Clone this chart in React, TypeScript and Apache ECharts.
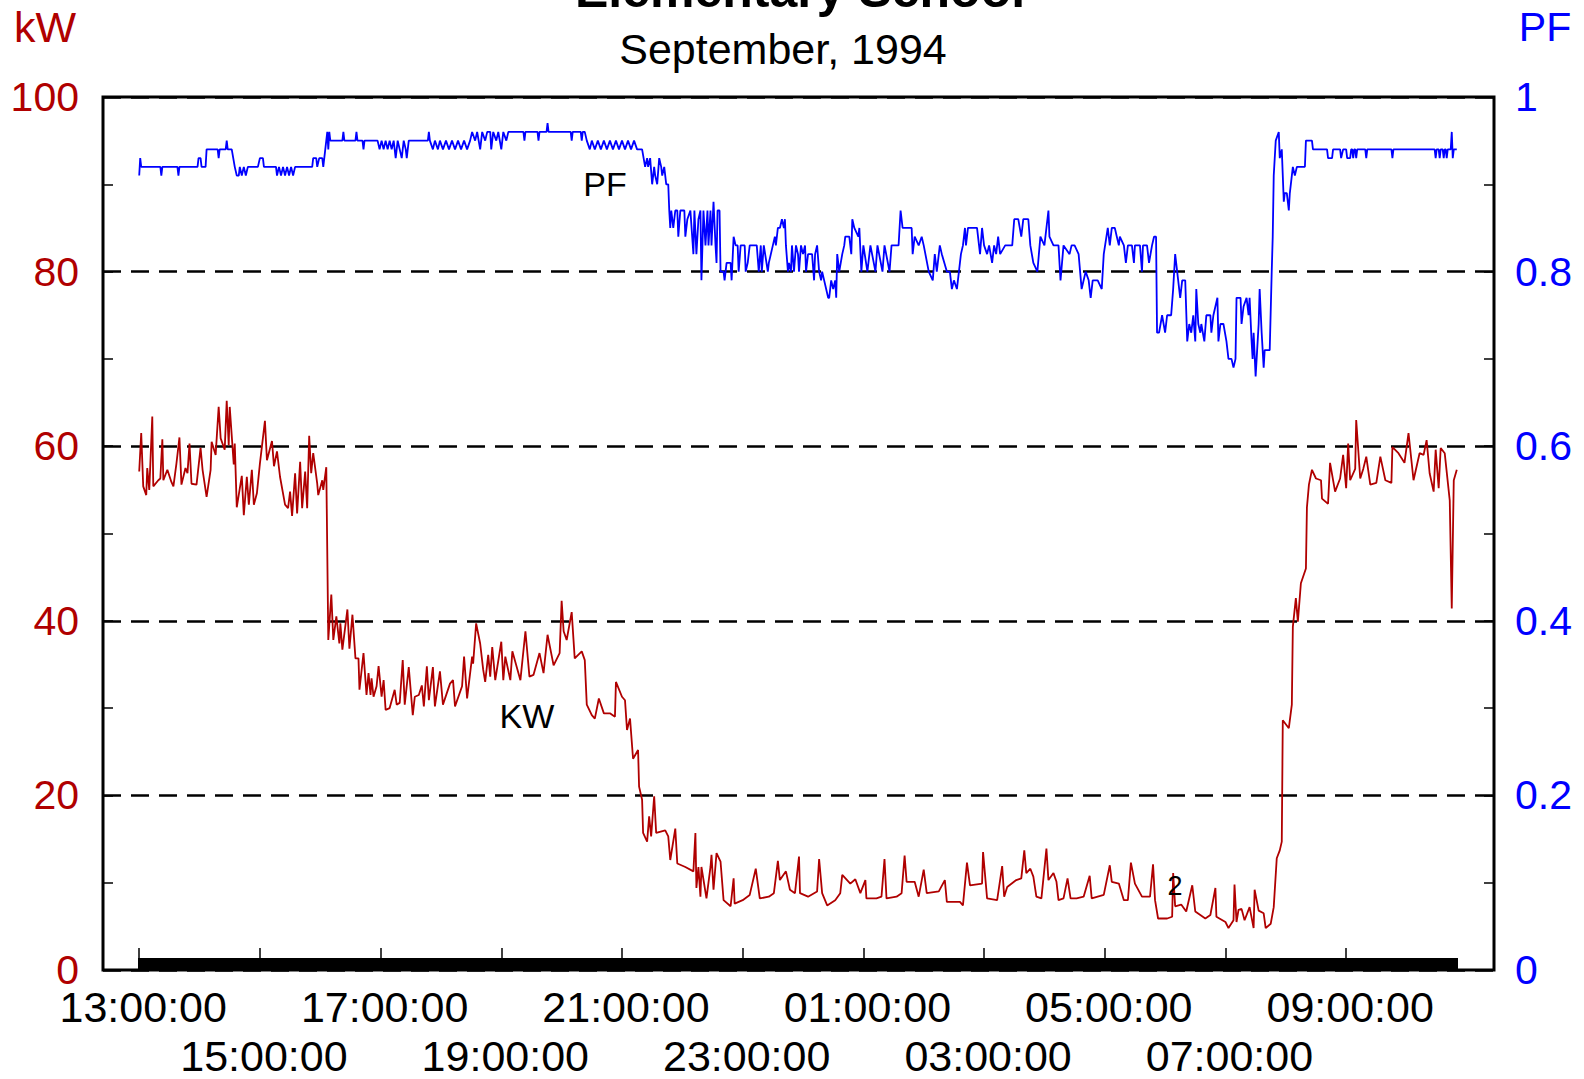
import React, { useEffect, useRef } from "react";
import * as echarts from "echarts";

// minutes after 13:00:00, kW
const kwAfternoon: [number, number][] = [
  [0,57.1],[2,61.5],[4,55.4],[7,54.4],[8,57.5],[10,55.0],[13,63.4],[14,55.4],[19,56.1],[21,56.3],
  [23,60.8],[24,56.1],[28,57.3],[32,55.9],[34,55.4],[37,58.0],[40,61.0],[42,55.6],[46,57.5],[48,56.9],
  [50,60.3],[52,55.7],[57,55.6],[61,59.8],[63,57.3],[67,54.2],[71,57.3],[72,60.5],[76,59.0],[79,64.5],
  [81,60.9],[85,59.6],[87,65.2],[89,60.1],[90,64.5],[94,57.9],[95,60.3],[97,53.0],[102,56.6],[104,52.1],
  [107,56.5],[109,53.3],[112,57.3],[114,53.3],[117,54.6],[120,58.0],[125,62.9],[127,58.4],[132,60.6],[134,57.7],
  [137,59.4],[140,56.5],[145,53.3],[148,52.9],[150,54.8],[152,52.0],[155,56.9],[157,52.3],[160,58.2],[162,52.9],
  [165,57.1],[167,52.9],[169,61.2],[171,56.9],[173,59.2],[177,55.7],[178,54.4],[182,56.1],[183,55.0],[186,57.6],
];
const kwEvening: [number, number][] = [
  [188,37.8],[191,43.0],[193,37.8],[196,40.5],[199,37.4],[200,39.7],[202,36.7],[207,41.3],[209,36.8],[212,40.7],
  [215,35.7],[218,35.7],[219,32.1],[223,36.3],[226,31.5],[228,34.0],[230,31.5],[231,33.4],[233,31.3],[236,32.5],
  [238,34.8],[241,31.3],[243,33.2],[245,29.8],[249,30.0],[254,32.1],[256,30.4],[259,30.6],[262,35.5],[264,30.4],
  [268,34.7],[272,29.2],[274,31.3],[278,31.5],[281,32.6],[283,30.2],[286,34.8],[288,30.9],[292,34.7],[294,30.2],
  [299,34.2],[302,30.4],[309,32.8],[312,33.2],[314,30.2],[321,32.5],[323,35.9],[326,31.1],[331,35.9],[332,35.1],
  [335,39.7],[339,37.4],[342,34.4],[344,33.0],[347,36.1],[349,33.6],[351,37.0],[354,33.2],[360,37.6],[362,33.2],
  [364,35.9],[369,33.2],[371,36.5],[379,33.2],[384,38.8],[388,33.6],[392,33.8],[398,36.3],[402,34.0],[406,38.4],
  [412,34.9],[418,36.3],[420,42.3],[422,38.8],[425,37.8],[430,41.0],[433,35.7],[440,36.5],[443,35.5],[445,30.4],
  [450,29.2],[453,28.8],[457,31.1],[462,29.4],[468,29.4],[473,29.0],[474,33.0],[480,31.3],[483,30.9],[485,27.5],
  [488,28.8],[491,24.2],[496,25.2],[497,21.0],[500,19.5],[501,15.7],[505,14.7],[507,17.6],[509,15.3],[512,19.9],
  [514,15.7],[523,16.0],[526,15.3],[528,12.6],[533,16.2],[535,12.2],[543,11.8],[551,11.3],[553,15.7],[554,9.4],
  [556,11.8],[558,8.4],[559,11.8],[564,8.2],[568,11.8],[569,13.2],[571,9.2],[574,13.4],[578,12.4],[581,8.0],
];
const kwNight: [number, number][] = [
  [588,7.3],[591,10.5],[592,7.6],[600,8.0],[607,8.6],[613,11.6],[617,8.2],[626,8.4],[631,8.8],[635,12.5],
  [637,10.3],[643,11.3],[647,9.2],[652,8.8],[656,13.0],[657,8.8],[665,8.4],[674,9.0],[676,12.7],[679,8.8],
  [684,7.4],[692,8.0],[697,8.8],[699,10.9],[707,9.9],[712,10.4],[717,8.8],[722,10.3],[723,8.2],[733,8.2],
  [738,8.4],[741,12.7],[743,8.2],[753,8.4],[758,8.8],[761,13.1],[763,10.1],[771,10.1],[775,8.4],[780,11.5],
  [783,8.8],[795,9.0],[801,10.3],[803,7.8],[816,7.8],[819,7.4],[823,12.3],[826,9.7],[838,9.9],[839,13.5],
  [843,8.2],[853,8.0],[858,11.9],[860,8.4],[863,9.5],[872,10.3],[877,10.5],[880,13.7],[882,11.1],[886,11.6],
  [889,10.7],[892,8.4],[897,8.2],[902,13.9],[904,10.3],[909,11.1],[912,10.1],[914,8.0],[919,8.2],[923,10.5],
  [926,8.2],[932,8.2],[939,8.4],[945,10.8],[947,8.2],[959,8.6],[965,12.0],[967,10.1],[974,9.9],[979,8.0],
  [983,8.0],[986,12.3],[990,9.9],[997,8.4],[1005,8.4],[1008,12.1],[1010,8.0],[1013,5.9],[1022,5.9],[1027,6.1],
  [1028,11.1],[1030,7.3],[1036,7.5],[1041,6.7],[1047,9.7],[1050,6.7],[1060,5.9],[1065,6.3],[1070,9.4],[1071,6.1],
  [1080,5.5],[1083,4.8],[1088,5.7],[1089,9.8],[1091,5.5],[1093,6.9],[1096,7.0],[1099,5.7],[1104,7.2],[1108,4.8],
  [1109,9.2],[1113,6.8],[1118,6.5],[1120,4.8],[1125,5.3],[1128,7.2],
];
const kwMorning: [number, number][] = [
  [1131,12.8],[1134,13.7],[1136,14.7],[1137,28.6],[1143,27.7],[1146,30.4],[1147,39.3],[1150,42.6],[1152,39.9],[1155,44.3],
  [1160,46.0],[1161,53.0],[1163,55.6],[1166,57.3],[1170,56.3],[1175,56.1],[1176,54.0],[1182,53.4],[1184,58.1],[1189,54.8],
  [1194,56.3],[1197,59.0],[1200,55.2],[1202,60.3],[1204,56.1],[1209,57.4],[1210,63.0],[1214,56.3],[1217,57.4],[1220,58.8],
  [1224,55.6],[1230,55.8],[1234,58.8],[1239,56.1],[1245,55.8],[1246,59.9],[1252,59.2],[1258,58.1],[1262,61.5],[1267,56.1],
  [1273,59.2],[1277,59.0],[1280,60.7],[1283,56.9],[1287,54.8],[1289,59.6],[1292,55.2],[1294,59.8],[1298,59.2],[1303,53.8],
  [1305,41.4],[1307,56.1],[1310,57.3],
];

// minutes after 13:00:00, power factor
const pfAfternoon: [number, number][] = [
  [0,0.91],[1,0.93],[2,0.92],[21,0.92],[22,0.91],[23,0.92],[38,0.92],[39,0.91],[40,0.92],[58,0.92],
  [59,0.93],[61,0.93],[62,0.92],[66,0.92],[67,0.94],[78,0.94],[79,0.93],[80,0.94],[86,0.94],[87,0.95],
  [88,0.94],[92,0.94],[95,0.92],[97,0.91],[99,0.91],[100,0.92],[102,0.91],[104,0.92],[106,0.91],[108,0.92],
  [118,0.92],[120,0.93],[123,0.93],[124,0.92],[136,0.92],[137,0.91],[139,0.92],[141,0.91],[143,0.92],[145,0.91],
  [147,0.92],[149,0.91],[151,0.92],[153,0.91],[155,0.92],[172,0.92],[173,0.93],[176,0.93],[177,0.92],[179,0.93],
  [182,0.93],[183,0.92],[186,0.95],[187,0.96],[188,0.94],[189,0.96],[190,0.95],[202,0.95],[203,0.96],[204,0.95],
  [215,0.95],[216,0.96],[217,0.95],[222,0.95],[223,0.94],[224,0.95],[237,0.95],[239,0.94],[241,0.95],[243,0.94],
  [245,0.95],[247,0.94],[249,0.95],[251,0.94],[253,0.95],[255,0.93],[257,0.95],[259,0.94],[261,0.93],[263,0.95],
  [265,0.94],[266,0.93],[268,0.95],[287,0.95],[288,0.96],[289,0.95],[292,0.94],[294,0.95],[297,0.94],[299,0.95],
  [302,0.94],[305,0.95],[308,0.94],[311,0.95],[314,0.94],[317,0.95],[320,0.94],[323,0.95],[326,0.94],[329,0.95],
  [331,0.96],[334,0.95],[336,0.96],[339,0.94],[341,0.96],[344,0.95],[346,0.96],[349,0.96],[350,0.94],[352,0.96],
  [355,0.95],[357,0.96],[360,0.94],[362,0.96],[365,0.95],[367,0.96],[382,0.96],[383,0.95],[384,0.96],[396,0.96],
  [397,0.95],[398,0.96],[405,0.96],[406,0.97],[407,0.96],[429,0.96],[430,0.95],[431,0.96],[439,0.96],[440,0.95],
  [441,0.96],[443,0.96],[445,0.95],[448,0.94],[450,0.95],[453,0.94],[456,0.95],[459,0.94],[462,0.95],[465,0.94],
  [468,0.95],[471,0.94],[474,0.95],[477,0.94],[480,0.95],[483,0.94],[486,0.95],[489,0.94],[492,0.95],[495,0.94],
  [500,0.94],
];
const pfNight: [number, number][] = [
  [503,0.92],[505,0.93],[506,0.92],[508,0.93],[510,0.90],[512,0.92],[513,0.91],[515,0.90],[517,0.93],[519,0.92],
  [520,0.91],[522,0.92],[524,0.90],[526,0.90],[527,0.87],[528,0.85],[529,0.87],[531,0.85],[533,0.87],[535,0.87],
  [536,0.84],[538,0.87],[542,0.87],[543,0.84],[545,0.86],[548,0.87],[551,0.82],[552,0.87],[554,0.82],[556,0.86],
  [558,0.87],[559,0.79],[561,0.87],[563,0.83],[565,0.87],[566,0.83],[568,0.87],[569,0.83],[571,0.88],[573,0.83],
  [574,0.81],[575,0.87],[577,0.87],[578,0.80],[581,0.80],[582,0.79],[584,0.81],[588,0.81],[589,0.79],[591,0.84],
  [593,0.83],[595,0.83],[596,0.80],[598,0.83],[602,0.83],[603,0.80],[605,0.81],[607,0.83],[614,0.83],[616,0.80],
  [618,0.83],[619,0.80],[621,0.83],[625,0.80],[626,0.81],[630,0.83],[632,0.84],[633,0.83],[635,0.85],[637,0.85],
  [639,0.86],[641,0.85],[642,0.86],[643,0.83],[645,0.80],[646,0.81],[648,0.80],[649,0.83],[651,0.80],[653,0.83],
  [655,0.82],[656,0.80],[658,0.83],[660,0.82],[662,0.83],[663,0.80],[665,0.82],[669,0.82],[671,0.79],[672,0.82],
  [674,0.83],[676,0.80],[678,0.79],[679,0.80],[683,0.78],[685,0.77],[686,0.77],[688,0.79],[690,0.78],[692,0.79],
  [693,0.77],[694,0.82],[696,0.80],[699,0.82],[701,0.83],[702,0.84],[706,0.84],[708,0.82],[709,0.86],[711,0.85],
  [715,0.84],[716,0.85],[718,0.80],[720,0.83],[724,0.80],[727,0.83],[732,0.80],[734,0.83],[739,0.80],[741,0.83],
  [746,0.80],[748,0.83],[755,0.83],[757,0.87],[759,0.85],[768,0.85],[769,0.82],[771,0.84],[775,0.83],[778,0.84],
  [780,0.83],[785,0.80],[789,0.79],[791,0.82],[793,0.80],[796,0.83],[798,0.82],[803,0.80],[806,0.80],[808,0.78],
  [810,0.79],[813,0.78],[817,0.82],[819,0.83],[821,0.85],[822,0.83],[824,0.85],[833,0.85],[835,0.83],[836,0.82],
  [838,0.85],[840,0.83],[843,0.82],[845,0.83],[848,0.81],[850,0.83],[852,0.82],[854,0.84],[856,0.82],[861,0.83],
  [868,0.83],[870,0.86],[874,0.86],[877,0.84],[879,0.86],[884,0.86],[886,0.83],[889,0.81],[893,0.80],[896,0.84],
  [900,0.83],[904,0.87],[905,0.84],[909,0.83],[914,0.83],[916,0.79],[919,0.83],[925,0.82],[927,0.83],[930,0.83],
  [934,0.82],[937,0.78],[941,0.80],[944,0.79],[946,0.77],[948,0.79],[953,0.79],[957,0.78],[959,0.82],[963,0.85],
  [965,0.83],[967,0.85],[970,0.85],[972,0.84],[974,0.83],[975,0.84],[979,0.83],[981,0.81],[983,0.83],[987,0.83],
  [989,0.81],[990,0.83],[995,0.83],[997,0.80],[998,0.83],[1002,0.83],[1004,0.81],[1007,0.83],[1009,0.84],[1011,0.84],
];
const pfMorning: [number, number][] = [
  [1012,0.73],[1014,0.73],[1017,0.75],[1020,0.73],[1022,0.75],[1026,0.75],[1028,0.78],[1030,0.82],[1032,0.80],[1033,0.79],
  [1035,0.77],[1037,0.79],[1040,0.79],[1042,0.72],[1044,0.74],[1046,0.73],[1048,0.75],[1050,0.72],[1051,0.78],[1053,0.74],
  [1055,0.73],[1056,0.74],[1059,0.72],[1061,0.75],[1065,0.75],[1066,0.73],[1068,0.75],[1070,0.76],[1072,0.77],[1073,0.72],
  [1075,0.74],[1078,0.74],[1081,0.72],[1083,0.70],[1086,0.70],[1088,0.69],[1090,0.70],[1091,0.77],[1095,0.77],[1096,0.74],
  [1098,0.76],[1101,0.77],[1103,0.75],[1104,0.77],[1106,0.72],[1107,0.70],[1108,0.73],[1110,0.68],[1113,0.74],[1114,0.78],
  [1116,0.73],[1118,0.69],[1119,0.71],[1124,0.71],[1126,0.80],[1127,0.84],[1128,0.91],[1130,0.95],[1133,0.96],[1134,0.93],
  [1136,0.94],[1138,0.88],[1139,0.89],[1141,0.89],[1143,0.87],[1144,0.89],[1147,0.92],[1149,0.91],[1151,0.92],[1159,0.92],
  [1160,0.95],[1166,0.95],[1167,0.94],[1181,0.94],[1182,0.93],[1186,0.93],[1187,0.94],[1194,0.94],[1195,0.93],[1197,0.94],
  [1200,0.94],[1201,0.93],[1204,0.93],[1205,0.94],[1206,0.94],[1207,0.93],[1208,0.94],[1209,0.94],[1210,0.93],[1211,0.94],
  [1219,0.94],[1220,0.93],[1221,0.94],[1245,0.94],[1246,0.93],[1247,0.94],[1288,0.94],[1289,0.93],[1290,0.94],[1292,0.94],
  [1293,0.93],[1294,0.94],[1296,0.94],[1297,0.93],[1298,0.94],[1299,0.94],[1300,0.93],[1301,0.94],[1304,0.94],[1305,0.96],
  [1306,0.93],[1307,0.94],[1310,0.94],
];

const hourTicks = [0, 120, 240, 360, 480, 600, 720, 840, 960, 1080, 1200];
const hourLabels = ["13:00:00", "15:00:00", "17:00:00", "19:00:00", "21:00:00", "23:00:00",
  "01:00:00", "03:00:00", "05:00:00", "07:00:00", "09:00:00"];
const kwAxisLabels = ["0", "20", "40", "60", "80", "100"];
const pfAxisLabels = ["0", "0.2", "0.4", "0.6", "0.8", "1"];

const KW_COLOR = "#b00000";
const PF_COLOR = "#0000ff";
const FONT = '"Liberation Sans", Arial, Helvetica, sans-serif';

export default function App() {
  const ref = useRef<HTMLDivElement>(null);
  useEffect(() => {
    if (!ref.current) return;
    const chart = echarts.init(ref.current, null, { renderer: "svg" });
    const kwData = [...kwAfternoon, ...kwEvening, ...kwNight, ...kwMorning];
    const pfData = [...pfAfternoon, ...pfNight, ...pfMorning];
    const lastT = kwData[kwData.length - 1][0];
    const sampleTicks: number[] = [];
    for (let t = 0; t <= lastT; t += 1) sampleTicks.push(t);
    const rowOne = hourTicks.filter((_, i) => i % 2 === 0);
    const rowTwo = hourTicks.filter((_, i) => i % 2 === 1);
    const hourLabel = (v: number) => {
      const i = hourTicks.indexOf(Math.round(v));
      return i < 0 ? "" : hourLabels[i];
    };

    const xMin = -36;
    const xMax = 1347;
    const tickStyle = { color: "#000", width: 1.5 };
    const noLine = { show: false, onZero: false };
    const textStyle = (text: string, fill: string, fontSize: number, bold = false) => ({
      text, fill, fontSize, fontFamily: FONT, fontWeight: bold ? "bold" : "normal",
      textAlign: "center", textVerticalAlign: "middle", align: "center", verticalAlign: "middle",
    });
    const labelRow = (values: number[], margin: number) => ({
      customValues: values, margin, fontSize: 43, lineHeight: 36, padding: [0, 0, 0, 8],
      color: "#000", fontFamily: FONT, showMinLabel: true, showMaxLabel: true, hideOverlap: false,
      alignMinLabel: "center", alignMaxLabel: "center",
      formatter: hourLabel,
    });

    chart.setOption({
      animation: false,
      backgroundColor: "#ffffff",
      grid: {
        left: 103, right: 90, top: 97, bottom: 109,
        containLabel: false, outerBoundsMode: "none",
        show: true, borderColor: "#000", borderWidth: 3, backgroundColor: "transparent",
      },
      xAxis: [
        {
          type: "value", min: xMin, max: xMax, position: "bottom",
          axisLine: noLine,
          axisTick: { show: true, inside: true, length: 22, customValues: hourTicks, lineStyle: tickStyle },
          axisLabel: labelRow(rowOne, 19),
          splitLine: { show: false },
        },
        {
          type: "value", min: xMin, max: xMax, position: "bottom",
          axisLine: noLine,
          axisTick: { show: false },
          axisLabel: labelRow(rowTwo, 68),
          splitLine: { show: false },
        },
        {
          type: "value", min: xMin, max: xMax, position: "bottom",
          axisLine: noLine,
          axisLabel: { show: false },
          splitLine: { show: false },
          axisTick: { show: true, inside: true, length: 12, customValues: sampleTicks,
            lineStyle: { color: "#000", width: 2 } },
        },
      ],
      yAxis: [
        {
          type: "value", min: 0, max: 100, interval: 20, position: "left",
          axisLine: noLine,
          axisTick: { show: false },
          axisLabel: {
            color: KW_COLOR, fontSize: 41, lineHeight: 30, margin: 24, fontFamily: FONT,
            showMinLabel: true, showMaxLabel: true,
            verticalAlignMinLabel: "middle", verticalAlignMaxLabel: "middle",
            formatter: (v: number) => kwAxisLabels[Math.round(v / 20)] ?? "",
          },
          splitLine: { show: true, lineStyle: { color: "#000", width: 2.5, type: [18, 10] } },
        },
        {
          type: "value", min: 0, max: 1, interval: 0.2, position: "right",
          axisLine: noLine,
          axisTick: { show: false },
          axisLabel: {
            color: PF_COLOR, fontSize: 41, lineHeight: 30, margin: 21, fontFamily: FONT,
            showMinLabel: true, showMaxLabel: true,
            verticalAlignMinLabel: "middle", verticalAlignMaxLabel: "middle",
            formatter: (v: number) => pfAxisLabels[Math.round(v * 5)] ?? "",
          },
          splitLine: { show: false },
        },
        {
          type: "value", min: 0, max: 100, interval: 10, position: "left",
          axisLine: noLine,
          axisTick: { show: true, inside: true, length: 10, lineStyle: tickStyle },
          axisLabel: { show: false },
          splitLine: { show: false },
        },
        {
          type: "value", min: 0, max: 1, interval: 0.1, position: "right",
          axisLine: noLine,
          axisTick: { show: true, inside: true, length: 10, lineStyle: tickStyle },
          axisLabel: { show: false },
          splitLine: { show: false },
        },
      ],
      series: [
        {
          name: "KW", type: "line", xAxisIndex: 0, yAxisIndex: 0, data: kwData,
          showSymbol: false, symbol: "none", silent: true, z: 3,
          lineStyle: { color: KW_COLOR, width: 1.8 },
        },
        {
          name: "PF", type: "line", xAxisIndex: 0, yAxisIndex: 1, data: pfData,
          showSymbol: false, symbol: "none", silent: true, z: 3,
          lineStyle: { color: PF_COLOR, width: 1.8 },
        },
      ],
      graphic: [
        { type: "text", x: 800, y: -10, silent: true, style: textStyle("Elementary School", "#000", 50, true) },
        { type: "text", x: 783, y: 49, silent: true, style: textStyle("September, 1994", "#000", 43) },
        { type: "text", x: 45, y: 27, silent: true, style: textStyle("kW", KW_COLOR, 43) },
        { type: "text", x: 1545, y: 27, silent: true, style: textStyle("PF", PF_COLOR, 41) },
        { type: "text", x: 605, y: 184, silent: true, z: 10, style: textStyle("PF", "#000", 34) },
        { type: "text", x: 527, y: 716, silent: true, z: 10, style: textStyle("KW", "#000", 34) },
        { type: "text", x: 1175, y: 886, silent: true, z: 10, style: textStyle("2", "#000", 27) },
      ],
    });
    return () => chart.dispose();
  }, []);
  return (
    <div
      ref={ref}
      style={{ position: "fixed", left: 0, top: 0, width: 1584, height: 1079, background: "#fff" }}
    />
  );
}
